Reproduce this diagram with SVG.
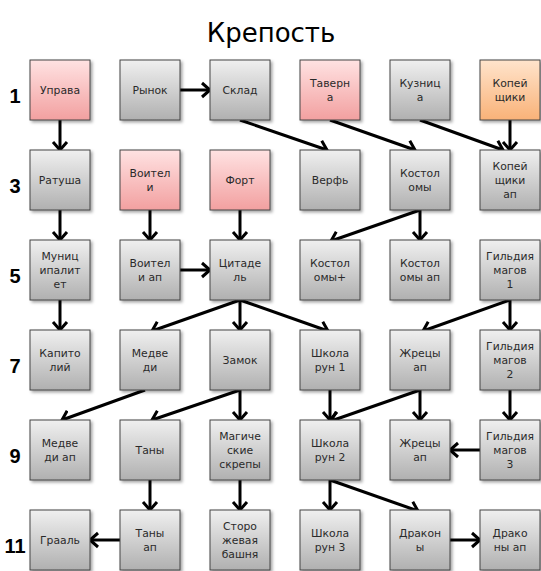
<svg xmlns="http://www.w3.org/2000/svg" width="541" height="571" viewBox="0 0 541 571">
<defs>
<linearGradient id="gGray" x1="0" y1="0" x2="0" y2="1"><stop offset="0" stop-color="#f0f0f0"/><stop offset="1" stop-color="#b0b0b0"/></linearGradient>
<linearGradient id="gPink" x1="0" y1="0" x2="0" y2="1"><stop offset="0" stop-color="#ffe2e2"/><stop offset="1" stop-color="#f2a0a0"/></linearGradient>
<linearGradient id="gOrange" x1="0" y1="0" x2="0" y2="1"><stop offset="0" stop-color="#ffe4cc"/><stop offset="1" stop-color="#f9b278"/></linearGradient>
<filter id="sh" x="-20%" y="-20%" width="150%" height="150%"><feDropShadow dx="2" dy="2" stdDeviation="1.5" flood-color="#000" flood-opacity="0.35"/></filter>
<marker id="ah" viewBox="-1 -9 11 18" refX="8" refY="0" markerWidth="11" markerHeight="18" markerUnits="userSpaceOnUse" orient="auto">
<path d="M0,-7 L8,0 L0,7" fill="none" stroke="#000" stroke-width="3" stroke-linejoin="miter"/>
</marker>
</defs>
<style>
.box{stroke:#444;stroke-width:1;filter:url(#sh)}
.gray{fill:url(#gGray)}
.pink{fill:url(#gPink)}
.orange{fill:url(#gOrange)}
.t{font-family:"DejaVu Sans","Liberation Sans",sans-serif;font-size:10.8px;fill:#2a2a2a;text-anchor:middle}
.row{font-family:"Liberation Sans",Arial,sans-serif;font-size:20px;font-weight:bold;fill:#000;text-anchor:middle}
.title{font-family:"DejaVu Sans","Liberation Sans",sans-serif;font-size:26px;fill:#000;text-anchor:middle}
#connectors line{stroke:#000;stroke-width:3;marker-end:url(#ah)}
</style>
<rect width="541" height="571" fill="#fff"/>
<text class="title" x="271" y="42">Крепость</text>
<g id="rowlabels">
<text class="row" x="15" y="103">1</text>
<text class="row" x="15" y="193">3</text>
<text class="row" x="15" y="283">5</text>
<text class="row" x="15" y="373">7</text>
<text class="row" x="15" y="463">9</text>
<text class="row" x="15" y="553">11</text>
</g>
<g id="connectors">
<line x1="60" y1="120" x2="60" y2="150"/>
<line x1="180" y1="90" x2="210" y2="90"/>
<line x1="240" y1="120" x2="327" y2="150"/>
<line x1="330" y1="120" x2="415" y2="150"/>
<line x1="420" y1="120" x2="503" y2="150"/>
<line x1="510" y1="120" x2="510" y2="150"/>
<line x1="60" y1="210" x2="60" y2="240"/>
<line x1="150" y1="210" x2="150" y2="240"/>
<line x1="240" y1="210" x2="240" y2="240"/>
<line x1="420" y1="210" x2="331" y2="241"/>
<line x1="420" y1="210" x2="420" y2="240"/>
<line x1="180" y1="270" x2="210" y2="270"/>
<line x1="60" y1="300" x2="60" y2="330"/>
<line x1="240" y1="300" x2="152" y2="331"/>
<line x1="240" y1="300" x2="240" y2="330"/>
<line x1="240" y1="300" x2="328" y2="331"/>
<line x1="510" y1="300" x2="423" y2="331"/>
<line x1="510" y1="300" x2="510" y2="330"/>
<line x1="145" y1="390" x2="62" y2="420"/>
<line x1="240" y1="390" x2="152" y2="420"/>
<line x1="240" y1="390" x2="240" y2="420"/>
<line x1="330" y1="390" x2="330" y2="420"/>
<line x1="420" y1="390" x2="331" y2="421"/>
<line x1="420" y1="390" x2="420" y2="420"/>
<line x1="510" y1="390" x2="510" y2="420"/>
<line x1="480" y1="450" x2="450" y2="450"/>
<line x1="150" y1="480" x2="150" y2="510"/>
<line x1="240" y1="480" x2="240" y2="510"/>
<line x1="330" y1="480" x2="330" y2="510"/>
<line x1="330" y1="480" x2="418" y2="511"/>
<line x1="120" y1="540" x2="90" y2="540"/>
<line x1="450" y1="540" x2="480" y2="540"/>
</g>
<!-- Row 1 -->
<g id="n-uprava"><rect class="box pink" x="30" y="60" width="60" height="60"/><text class="t" x="60" y="94">Управа</text></g>
<g id="n-rynok"><rect class="box gray" x="120" y="60" width="60" height="60"/><text class="t" x="150" y="94">Рынок</text></g>
<g id="n-sklad"><rect class="box gray" x="210" y="60" width="60" height="60"/><text class="t" x="240" y="94">Склад</text></g>
<g id="n-taverna"><rect class="box pink" x="300" y="60" width="60" height="60"/><text class="t" x="330" y="87">Таверн</text><text class="t" x="330" y="101">а</text></g>
<g id="n-kuznica"><rect class="box gray" x="390" y="60" width="60" height="60"/><text class="t" x="420" y="87">Кузниц</text><text class="t" x="420" y="101">а</text></g>
<g id="n-kopeyshiki"><rect class="box orange" x="480" y="60" width="60" height="60"/><text class="t" x="510" y="87">Копей</text><text class="t" x="510" y="101">щики</text></g>
<!-- Row 3 -->
<g id="n-ratusha"><rect class="box gray" x="30" y="150" width="60" height="60"/><text class="t" x="60" y="184">Ратуша</text></g>
<g id="n-voiteli"><rect class="box pink" x="120" y="150" width="60" height="60"/><text class="t" x="150" y="177">Воител</text><text class="t" x="150" y="191">и</text></g>
<g id="n-fort"><rect class="box pink" x="210" y="150" width="60" height="60"/><text class="t" x="240" y="184">Форт</text></g>
<g id="n-verf"><rect class="box gray" x="300" y="150" width="60" height="60"/><text class="t" x="330" y="184">Верфь</text></g>
<g id="n-kostolomy"><rect class="box gray" x="390" y="150" width="60" height="60"/><text class="t" x="420" y="177">Костол</text><text class="t" x="420" y="191">омы</text></g>
<g id="n-kopeyshiki-ap"><rect class="box gray" x="480" y="150" width="60" height="60"/><text class="t" x="510" y="170">Копей</text><text class="t" x="510" y="184">щики</text><text class="t" x="510" y="198">ап</text></g>
<!-- Row 5 -->
<g id="n-municipalitet"><rect class="box gray" x="30" y="240" width="60" height="60"/><text class="t" x="60" y="260">Муниц</text><text class="t" x="60" y="274">ипалит</text><text class="t" x="60" y="288">ет</text></g>
<g id="n-voiteli-ap"><rect class="box gray" x="120" y="240" width="60" height="60"/><text class="t" x="150" y="267">Воител</text><text class="t" x="150" y="281">и ап</text></g>
<g id="n-citadel"><rect class="box gray" x="210" y="240" width="60" height="60"/><text class="t" x="240" y="267">Цитаде</text><text class="t" x="240" y="281">ль</text></g>
<g id="n-kostolomy-plus"><rect class="box gray" x="300" y="240" width="60" height="60"/><text class="t" x="330" y="267">Костол</text><text class="t" x="330" y="281">омы+</text></g>
<g id="n-kostolomy-ap"><rect class="box gray" x="390" y="240" width="60" height="60"/><text class="t" x="420" y="267">Костол</text><text class="t" x="420" y="281">омы ап</text></g>
<g id="n-gildiya1"><rect class="box gray" x="480" y="240" width="60" height="60"/><text class="t" x="510" y="260">Гильдия</text><text class="t" x="510" y="274">магов</text><text class="t" x="510" y="288">1</text></g>
<!-- Row 7 -->
<g id="n-kapitoliy"><rect class="box gray" x="30" y="330" width="60" height="60"/><text class="t" x="60" y="357">Капито</text><text class="t" x="60" y="371">лий</text></g>
<g id="n-medvedi"><rect class="box gray" x="120" y="330" width="60" height="60"/><text class="t" x="150" y="357">Медве</text><text class="t" x="150" y="371">ди</text></g>
<g id="n-zamok"><rect class="box gray" x="210" y="330" width="60" height="60"/><text class="t" x="240" y="364">Замок</text></g>
<g id="n-shkola1"><rect class="box gray" x="300" y="330" width="60" height="60"/><text class="t" x="330" y="357">Школа</text><text class="t" x="330" y="371">рун 1</text></g>
<g id="n-zhrecy-ap7"><rect class="box gray" x="390" y="330" width="60" height="60"/><text class="t" x="420" y="357">Жрецы</text><text class="t" x="420" y="371">ап</text></g>
<g id="n-gildiya2"><rect class="box gray" x="480" y="330" width="60" height="60"/><text class="t" x="510" y="350">Гильдия</text><text class="t" x="510" y="364">магов</text><text class="t" x="510" y="378">2</text></g>
<!-- Row 9 -->
<g id="n-medvedi-ap"><rect class="box gray" x="30" y="420" width="60" height="60"/><text class="t" x="60" y="447">Медве</text><text class="t" x="60" y="461">ди ап</text></g>
<g id="n-tany"><rect class="box gray" x="120" y="420" width="60" height="60"/><text class="t" x="150" y="454">Таны</text></g>
<g id="n-skrepy"><rect class="box gray" x="210" y="420" width="60" height="60"/><text class="t" x="240" y="440">Магиче</text><text class="t" x="240" y="454">ские</text><text class="t" x="240" y="468">скрепы</text></g>
<g id="n-shkola2"><rect class="box gray" x="300" y="420" width="60" height="60"/><text class="t" x="330" y="447">Школа</text><text class="t" x="330" y="461">рун 2</text></g>
<g id="n-zhrecy-ap9"><rect class="box gray" x="390" y="420" width="60" height="60"/><text class="t" x="420" y="447">Жрецы</text><text class="t" x="420" y="461">ап</text></g>
<g id="n-gildiya3"><rect class="box gray" x="480" y="420" width="60" height="60"/><text class="t" x="510" y="440">Гильдия</text><text class="t" x="510" y="454">магов</text><text class="t" x="510" y="468">3</text></g>
<!-- Row 11 -->
<g id="n-graal"><rect class="box gray" x="30" y="510" width="60" height="60"/><text class="t" x="60" y="544">Грааль</text></g>
<g id="n-tany-ap"><rect class="box gray" x="120" y="510" width="60" height="60"/><text class="t" x="150" y="537">Таны</text><text class="t" x="150" y="551">ап</text></g>
<g id="n-bashnya"><rect class="box gray" x="210" y="510" width="60" height="60"/><text class="t" x="240" y="530">Сторо</text><text class="t" x="240" y="544">жевая</text><text class="t" x="240" y="558">башня</text></g>
<g id="n-shkola3"><rect class="box gray" x="300" y="510" width="60" height="60"/><text class="t" x="330" y="537">Школа</text><text class="t" x="330" y="551">рун 3</text></g>
<g id="n-drakony"><rect class="box gray" x="390" y="510" width="60" height="60"/><text class="t" x="420" y="537">Дракон</text><text class="t" x="420" y="551">ы</text></g>
<g id="n-drakony-ap"><rect class="box gray" x="480" y="510" width="60" height="60"/><text class="t" x="510" y="537">Драко</text><text class="t" x="510" y="551">ны ап</text></g>
</svg>
